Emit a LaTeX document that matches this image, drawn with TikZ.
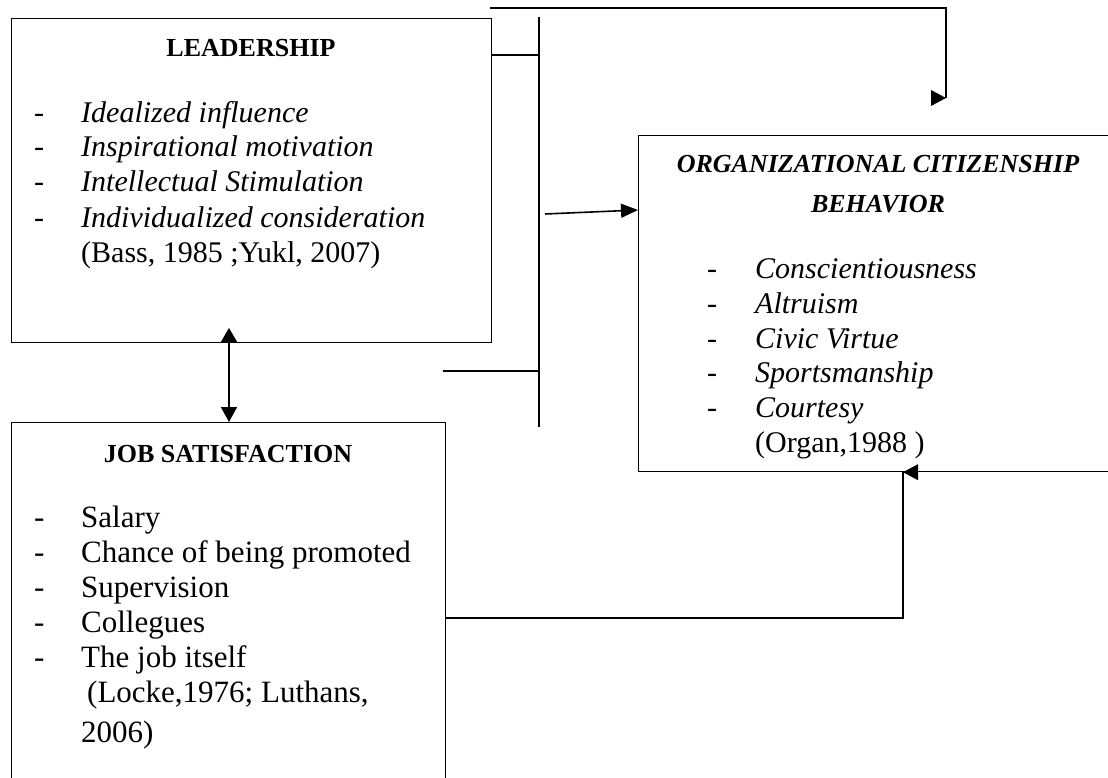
\documentclass[tikz,border=0pt]{standalone}
\usepackage{fontspec}
\setmainfont{Liberation Serif}
\usetikzlibrary{arrows.meta}
\begin{document}
\begin{tikzpicture}[x=1pt,y=-1pt,
  box/.style={draw, line width=1.2pt, inner sep=0pt, anchor=north west},
  conn/.style={line width=1.6pt},
  tip/.style={fill=black},
  item/.style={anchor=base west, inner sep=0pt, font=\fontsize{30}{36}\selectfont},
  jsitem/.style={anchor=base west, inner sep=0pt, font=\fontsize{31}{37}\selectfont},
  ttl/.style={anchor=base, inner sep=0pt, font=\fontsize{26}{31}\selectfont\bfseries}]
\useasboundingbox (0,0) rectangle (1108,778);
\clip (0,0) rectangle (1108,778);

% boxes
\node[box, minimum width=480pt, minimum height=324pt] (lead) at (11,18) {};
\node[box, minimum width=434pt, minimum height=370pt] (js) at (11,422) {};
\node[box, minimum width=480pt, minimum height=336pt] (ocb) at (638,135) {};

% LEADERSHIP texts
\node[ttl] (leadT) at (251,57) {LEADERSHIP};
\node[item] (ld1) at (34,123) {-};
\node[item] (ld2) at (34,157) {-};
\node[item] (ld3) at (34,192) {-};
\node[item] (ld4) at (34,227) {-};
\node[item] (li1) at (81,123) {\itshape Idealized influence};
\node[item] (li2) at (81,157) {\itshape Inspirational motivation};
\node[item] (li3) at (81,192) {\itshape Intellectual Stimulation};
\node[item] (li4) at (81,227) {\itshape Individualized consideration};
\node[item] (lref) at (81,262) {(Bass, 1985 ;Yukl, 2007)};

% JOB SATISFACTION texts
\node[ttl] (jsT) at (228,462) {JOB SATISFACTION};
\node[jsitem] (jd1) at (34,527) {-};
\node[jsitem] (jd2) at (34,562) {-};
\node[jsitem] (jd3) at (34,597) {-};
\node[jsitem] (jd4) at (34,632) {-};
\node[jsitem] (jd5) at (34,667) {-};
\node[jsitem] (ji1) at (81,527) {Salary};
\node[jsitem] (ji2) at (81,562) {Chance of being promoted};
\node[jsitem] (ji3) at (81,597) {Supervision};
\node[jsitem] (ji4) at (81,632) {Collegues};
\node[jsitem] (ji5) at (81,667) {The job itself};
\node[jsitem] (jref1) at (87,702) {(Locke,1976; Luthans,};
\node[jsitem] (jref2) at (81,742) {2006)};

% OCB texts
\node[ttl, font=\fontsize{26}{31}\selectfont\bfseries\itshape] (ocbT1) at (878,173) {ORGANIZATIONAL CITIZENSHIP};
\node[ttl, font=\fontsize{26}{31}\selectfont\bfseries\itshape] (ocbT2) at (878,212) {BEHAVIOR};
\node[item] (od1) at (707,278) {-};
\node[item] (od2) at (707,313) {-};
\node[item] (od3) at (707,348) {-};
\node[item] (od4) at (707,382) {-};
\node[item] (od5) at (707,417) {-};
\node[item] (oi1) at (755,278) {\itshape Conscientiousness};
\node[item] (oi2) at (755,313) {\itshape Altruism};
\node[item] (oi3) at (755,348) {\itshape Civic Virtue};
\node[item] (oi4) at (755,382) {\itshape Sportsmanship};
\node[item] (oi5) at (755,417) {\itshape Courtesy};
\node[item] (oref) at (755,452) {(Organ,1988 )};

% connectors
\coordinate (topL) at (490,8);
\coordinate (topR) at (946,98);
\draw[conn] (topL) -- (topL -| topR) -- (topR);
\fill[tip] (topR) -- ++(-15,-8) -- ++(0,16) -- cycle;

\coordinate (barT) at (539,17);
\coordinate (barB) at (539,427);
\draw[conn] (barT) -- (barB);
\coordinate (h1) at (539,55);
\draw[conn] (lead.east |- h1) -- (h1);
\coordinate (h2L) at (443,371);
\draw[conn] (h2L) -- (h2L -| barB);

\coordinate (aS) at (545,214);
\coordinate (aY) at (0,210);
\draw[conn, -{Triangle[length=17pt,width=14pt]}] (aS) -- (ocb.west |- aY);

\coordinate (dA) at (229,328);
\draw[conn, {Triangle[length=14pt,width=16pt]}-{Triangle[length=15pt,width=16pt]}] (dA) -- (dA |- js.north);

\coordinate (rY) at (0,618);
\coordinate (rX) at (903,0);
\draw[conn] (js.east |- rY) -- (rX |- rY) -- (rX |- ocb.south);
\fill[tip] (rX |- ocb.south) -- ++(15,-8) -- ++(0,16) -- cycle;
\end{tikzpicture}
\end{document}
